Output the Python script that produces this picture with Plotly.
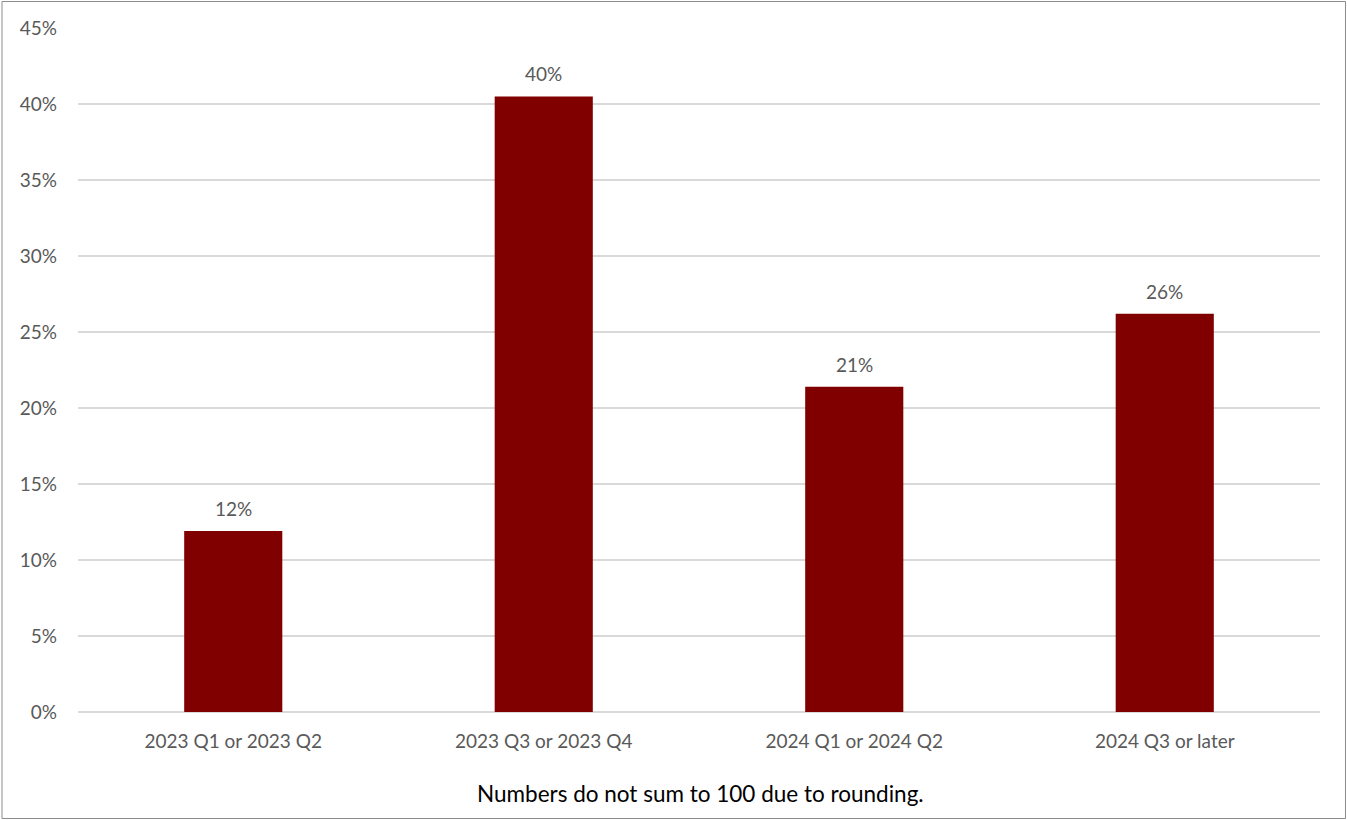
import plotly.graph_objects as go

categories = ["2023 Q1 or 2023 Q2", "2023 Q3 or 2023 Q4", "2024 Q1 or 2024 Q2", "2024 Q3 or later"]
values = [11.9, 40.5, 21.4, 26.2]
value_labels = ["12%", "40%", "21%", "26%"]
tick_vals = [0, 5, 10, 15, 20, 25, 30, 35, 40, 45]
tick_text = ["0%", "5%", "10%", "15%", "20%", "25%", "30%", "35%", "40%", "45%"]
footnote = "Numbers do not sum to 100 due to rounding."

W, H = 1347, 820
L, R, T, B = 78, 27, 28, 108
pw, ph = W - L - R, H - T - B

FONT = "Lato, 'Open Sans', sans-serif"
GREY = "#595959"
FS = 19

fig = go.Figure(go.Bar(
    x=categories, y=values, marker_color="#800000", marker_line_width=0,
    width=0.316, hoverinfo="skip",
))

for c, v, t in zip(categories, values, value_labels):
    fig.add_annotation(x=c, y=v, text=t, showarrow=False, yanchor="bottom",
                       yshift=9, font=dict(family=FONT, size=FS, color=GREY))

fig.add_annotation(xref="paper", yref="paper", x=0.5 + (700 - (L + pw / 2)) / pw,
                   y=-(793 - (T + ph)) / ph, text=footnote, showarrow=False,
                   xanchor="center", yanchor="middle",
                   font=dict(family=FONT, size=22.5, color="#000000"))

fig.add_shape(type="rect", xref="paper", yref="paper",
              x0=-(L - 2) / pw, x1=1 + (R - 1.5) / pw,
              y0=-(B - 1.5) / ph, y1=1 + (T - 1.5) / ph,
              line=dict(color="#8c8c8c", width=1), fillcolor="rgba(0,0,0,0)", layer="above")

fig.update_layout(
    width=W, height=H, margin=dict(l=L, r=R, t=T, b=B),
    plot_bgcolor="white", paper_bgcolor="white", showlegend=False,
    font=dict(family=FONT, size=FS, color=GREY),
    bargap=0.684,
    xaxis=dict(showgrid=False, showline=False, ticks="", ticklabelstandoff=16,
               tickfont=dict(size=FS, color=GREY)),
    yaxis=dict(range=[0, 45], tickvals=tick_vals, ticktext=tick_text,
               showgrid=True, gridcolor="#d9d9d9", gridwidth=1.5,
               zeroline=True, zerolinecolor="#d9d9d9", zerolinewidth=1.5,
               showline=False, ticks="", ticklabelstandoff=20,
               tickfont=dict(size=FS, color=GREY)),
)

fig.write_html("out.html", config={"displayModeBar": False},
               post_script="document.body.style.margin='0';")
